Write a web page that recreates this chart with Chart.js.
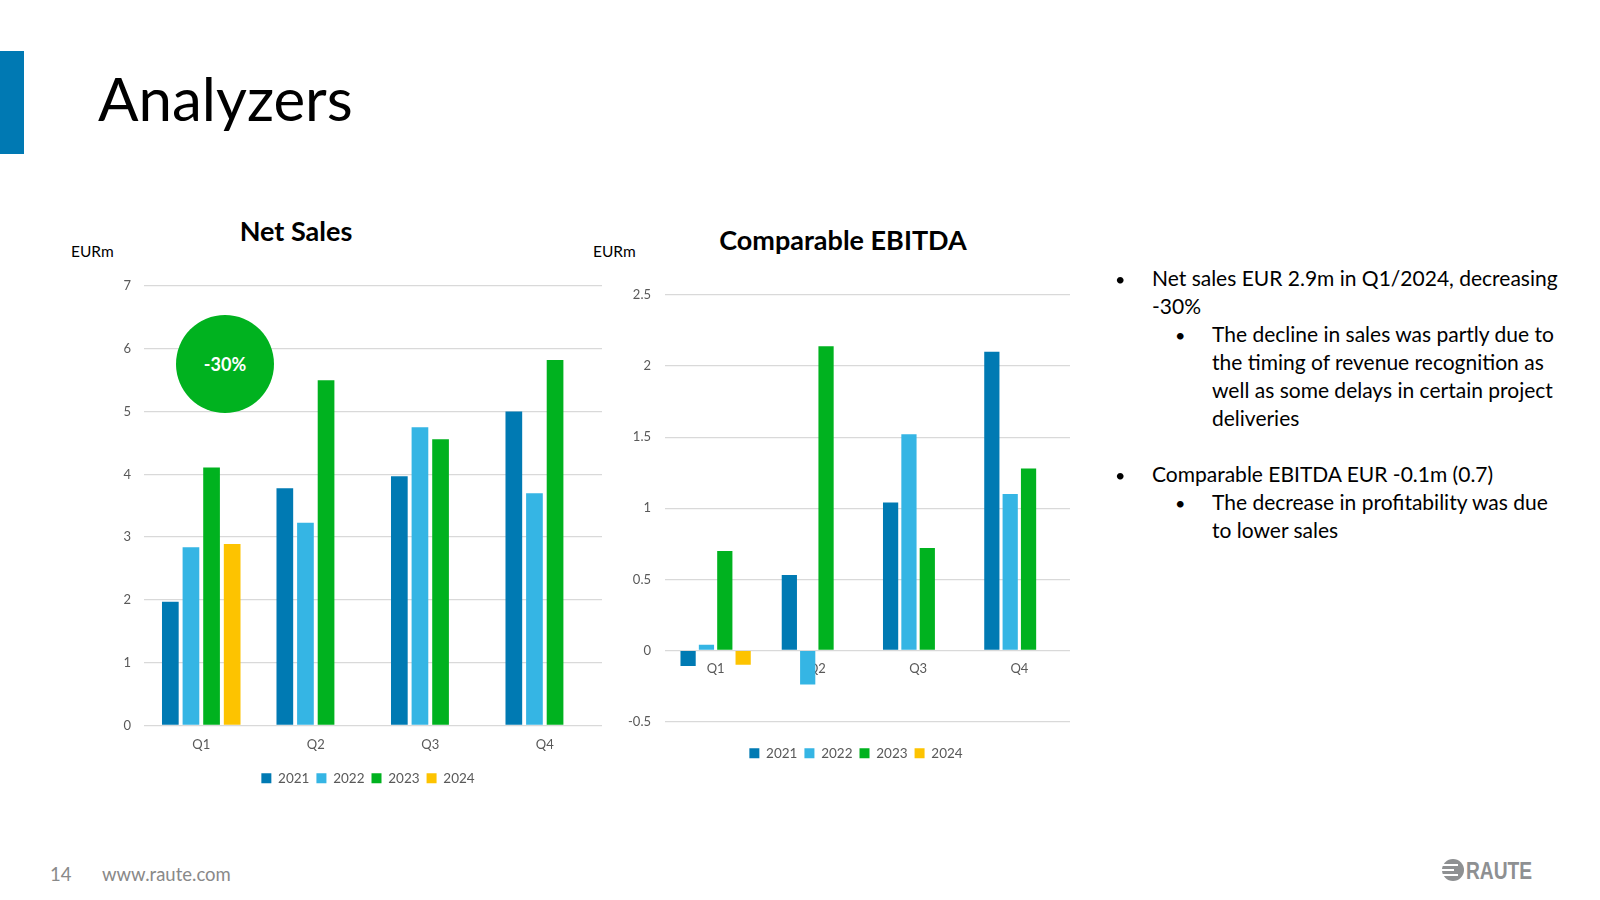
<!DOCTYPE html>
<html>
<head>
<meta charset="utf-8">
<script src="https://cdn.jsdelivr.net/npm/chart.js@4.4.1/dist/chart.umd.min.js"></script>
<style>
  html, body { margin: 0; padding: 0; background: #fff; }
  body { width: 1600px; height: 900px; position: relative; overflow: hidden; font-family: Lato, "Open Sans", sans-serif; color: #000; }
  .abs { position: absolute; white-space: nowrap; }
  #accent { left: 0; top: 51px; width: 24px; height: 103px; background: #0079b3; }
  #title { left: 98px; top: 61px; font-size: 60px; line-height: 74px; }
  .ctitle { font-weight: bold; font-size: 27px; line-height: 34px; transform: translateX(-50%); }
  .unit { font-size: 15.5px; line-height: 20px; }
  #badge { left: 176px; top: 315px; width: 98px; height: 98px; border-radius: 50%; background: #00b21f;
           color: #fff; font-weight: bold; font-size: 18px; line-height: 98px; text-align: center; }
  .txt { font-size: 21px; line-height: 28px; }
  .bul { font-size: 18px; line-height: 28px; }
  .foot { font-size: 18.5px; line-height: 22px; color: #898989; }
  #logo { left: 1441px; top: 858px; height: 26px; }
  #logo span { position: absolute; left: 25px; top: -1px; font-family: "Liberation Sans", sans-serif;
               font-weight: bold; font-size: 24px; line-height: 28px; color: #8e9092;
               transform: scaleX(0.8); transform-origin: 0 0; }
</style>
</head>
<body>
<div class="abs" id="accent"></div>
<div class="abs" id="title">Analyzers</div>

<div class="abs ctitle" style="left:296px; top:214px;">Net Sales</div>
<div class="abs unit" style="left:71px; top:241px;">EURm</div>
<div class="abs ctitle" style="left:843px; top:223px;">Comparable EBITDA</div>
<div class="abs unit" style="left:593px; top:241px;">EURm</div>

<canvas class="abs" id="salesChart" width="536" height="540" style="left:100px; top:260px;"></canvas>
<canvas class="abs" id="ebitdaChart" width="512" height="500" style="left:600px; top:270px;"></canvas>

<div class="abs" id="badge">-30%</div>

<div class="abs bul" style="left:1115px; top:265px;">•</div>
<div class="abs txt" style="left:1152px; top:264px;">Net sales EUR 2.9m in Q1/2024, decreasing</div>
<div class="abs txt" style="left:1152px; top:292px;">-30%</div>
<div class="abs bul" style="left:1175px; top:321px;">•</div>
<div class="abs txt" style="left:1212px; top:320px;">The decline in sales was partly due to</div>
<div class="abs txt" style="left:1212px; top:348px;">the timing of revenue recognition as</div>
<div class="abs txt" style="left:1212px; top:376px;">well as some delays in certain project</div>
<div class="abs txt" style="left:1212px; top:404px;">deliveries</div>
<div class="abs bul" style="left:1115px; top:461px;">•</div>
<div class="abs txt" style="left:1152px; top:460px;">Comparable EBITDA EUR -0.1m (0.7)</div>
<div class="abs bul" style="left:1175px; top:489px;">•</div>
<div class="abs txt" style="left:1212px; top:488px;">The decrease in profitability was due</div>
<div class="abs txt" style="left:1212px; top:516px;">to lower sales</div>

<div class="abs foot" style="left:50px; top:863px;">14</div>
<div class="abs foot" style="left:102px; top:863px;">www.raute.com</div>
<div class="abs" id="logo">
  <svg width="24" height="24" viewBox="0 0 24 24" style="position:absolute; left:0; top:0;">
    <circle cx="12" cy="12" r="11" fill="#8e9092"/>
    <rect x="0" y="6" width="17" height="2" fill="#fff"/>
    <rect x="0" y="11" width="13" height="2" fill="#fff"/>
    <rect x="0" y="16" width="17" height="2" fill="#fff"/>
  </svg>
  <span>RAUTE</span>
</div>

<script>
var quarters = ['Q1', 'Q2', 'Q3', 'Q4'];
var years = ['2021', '2022', '2023', '2024'];
var yearColors = ['#007ab3', '#35b5e4', '#00b21f', '#fdc300'];

// Net sales, EURm
var sales2021 = [1.97, 3.78, 3.97, 5.00];
var sales2022 = [2.84, 3.23, 4.75, 3.70];
var sales2023 = [4.11, 5.50, 4.56, 5.82];
var sales2024 = [2.89, null, null, null];

// Comparable EBITDA, EURm
var ebitda2021 = [-0.11, 0.53, 1.04, 2.10];
var ebitda2022 = [0.04, -0.24, 1.52, 1.10];
var ebitda2023 = [0.70, 2.14, 0.72, 1.28];
var ebitda2024 = [-0.10, null, null, null];

var salesTicks = { min: 0, max: 7, step: 1 };
var ebitdaTicks = { min: -0.5, max: 2.5, step: 0.5 };

var tickFont = { family: 'Lato', size: 13 };
var gridColor = '#d9d9d9';
var textGrey = '#595959';

// nudges the bottom legend sideways (legend is centred inside the layout padding otherwise)
var legendShift = {
    id: 'legendShift',
    afterLayout: function (chart, args, opts) {
        chart.legend.left += opts.dx;
        chart.legend.right += opts.dx;
    }
};

function makeSets(rows, catPct, barPct) {
    var sets = [];
    for (var i = 0; i < rows.length; i++) {
        sets.push({
            label: years[i],
            data: rows[i],
            backgroundColor: yearColors[i],
            categoryPercentage: catPct,
            barPercentage: barPct
        });
    }
    return sets;
}

// extraTop: empty legend title used only as a spacer above the items
function legendOpts(extraTop) {
    return {
        position: 'bottom',
        title: { display: extraTop > 0, text: '', padding: 0, font: { size: 10, lineHeight: (extraTop / 10) || 1 } },
        labels: { boxWidth: 10, boxHeight: 10, padding: 7, color: textGrey, font: { family: 'Lato', size: 13.5 } }
    };
}

function drawCharts() {
    var ctx1 = document.getElementById('salesChart');
    var salesChart = new Chart(ctx1, {
        type: 'bar',
        data: {
            labels: quarters,
            datasets: makeSets([sales2021, sales2022, sales2023, sales2024], 0.72, 0.81)
        },
        plugins: [legendShift],
        options: {
            responsive: false,
            animation: false,
            layout: { padding: { top: 26, right: 34, left: 0, bottom: 5 } },
            plugins: { legend: legendOpts(0), legendShift: { dx: 17 }, tooltip: { enabled: false } },
            scales: {
                x: {
                    grid: { display: false },
                    border: { display: false },
                    ticks: { color: textGrey, font: tickFont, padding: 4 },
                    afterFit: function (s) { s.height = 39; }
                },
                y: {
                    min: salesTicks.min,
                    max: salesTicks.max,
                    ticks: { stepSize: salesTicks.step, color: textGrey, font: tickFont, padding: 13 },
                    grid: { color: gridColor, lineWidth: 1.3, drawTicks: false },
                    border: { display: false },
                    afterFit: function (s) { s.width = 44; }
                }
            }
        }
    });

    var ctx2 = document.getElementById('ebitdaChart');
    var ebitdaChart = new Chart(ctx2, {
        type: 'bar',
        data: {
            labels: quarters,
            datasets: makeSets([ebitda2021, ebitda2022, ebitda2023, ebitda2024], 0.725, 0.83)
        },
        plugins: [legendShift],
        options: {
            responsive: false,
            animation: false,
            layout: { padding: { top: 25, right: 42, left: 0, bottom: 0 } },
            plugins: { legend: legendOpts(18), legendShift: { dx: 21 }, tooltip: { enabled: false } },
            scales: {
                x: {
                    position: { y: 0 },
                    grid: { display: false },
                    border: { display: false },
                    ticks: { color: textGrey, font: tickFont, padding: 3 },
                    afterFit: function (s) { s.height = 0; }
                },
                y: {
                    min: ebitdaTicks.min,
                    max: ebitdaTicks.max,
                    ticks: {
                        stepSize: ebitdaTicks.step, color: textGrey, font: tickFont, padding: 14,
                        callback: function (v) { return String(Math.round(v * 10) / 10); }
                    },
                    grid: { color: gridColor, lineWidth: 1.3, drawTicks: false },
                    border: { display: false },
                    afterFit: function (s) { s.width = 65; }
                }
            }
        }
    });
}

// make sure Lato is ready so legend widths are measured with the drawn font
Promise.all([document.fonts.load('13px Lato'), document.fonts.load('bold 13px Lato')])
    .then(drawCharts, drawCharts);
</script>
</body>
</html>
